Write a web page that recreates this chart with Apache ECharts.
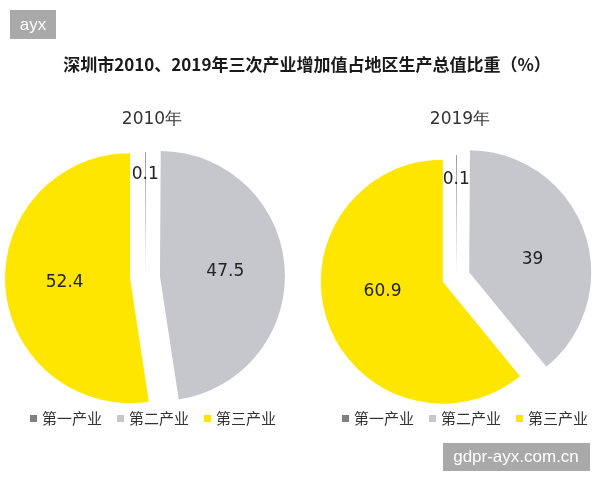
<!DOCTYPE html>
<html>
<head>
<meta charset="utf-8">
<script src="https://cdn.jsdelivr.net/npm/echarts@6/dist/echarts.min.js"></script>
<style>
  html, body { margin: 0; padding: 0; background: #fff; }
  #chart { width: 600px; height: 480px; }
</style>
</head>
<body>
<div id="chart"></div>
<script>
const industries = ['第一产业', '第二产业', '第三产业'];
const share2010 = [0.1, 47.5, 52.4];
const share2019 = [0.1, 39, 60.9];
const years = ['2010年', '2019年'];
const mainTitle = '深圳市2010、2019年三次产业增加值占地区生产总值比重（%）';

const colors = ['#808080', '#c6c7cc', '#ffe600'];
const cjk = '"Noto Sans CJK SC", sans-serif';

const chart = echarts.init(document.getElementById('chart'));

// label nudges: an empty spacer line above/below pushes the number away from the slice middle
function nudge(kind) {
    if (kind === 'up73') return '{v|{c}}\n{up73| }';
    if (kind === 'up67') return '{v|{c}}\n{up67| }';
    if (kind === 'up24') return '{v|{c}}\n{up24| }';
    if (kind === 'down') return '{dn18| }\n{vr|{c}}';
    return '{v|{c}}';
}

function pieData(values, nudges) {
    return values.map((v, i) => ({
        name: industries[i],
        value: v,
        selected: i > 0,
        label: { formatter: nudge(nudges[i]) }
    }));
}

const numStyle = { fontFamily: 'DejaVu Sans', fontSize: 17, color: '#222', lineHeight: 20 };

function pieSeries(values, center, radius, offset, nudges) {
    return {
        type: 'pie',
        center: center,
        radius: radius,
        startAngle: 90,
        clockwise: true,
        selectedMode: 'multiple',
        selectedOffset: offset,
        silent: true,
        label: {
            show: true,
            position: 'inside',
            fontFamily: 'DejaVu Sans',
            fontSize: 17,
            color: '#222',
            rich: {
                v: numStyle,
                vr: Object.assign({}, numStyle, { padding: [0, 0, 0, 6] }),
                up73: { height: 73, fontSize: 1 },
                up67: { height: 67, fontSize: 1 },
                up24: { height: 24, fontSize: 1 },
                dn18: { height: 18, fontSize: 1 }
            }
        },
        labelLine: { show: false },
        emphasis: { disabled: true },
        select: { itemStyle: { borderWidth: 0 } },
        itemStyle: { borderWidth: 0 },
        data: pieData(values, nudges)
    };
}

const legendBase = {
    data: industries,
    orient: 'horizontal',
    icon: 'rect',
    itemWidth: 7,
    itemHeight: 7,
    itemGap: 15,
    selectedMode: false,
    textStyle: { fontFamily: cjk, fontSize: 15, color: '#333' }
};

const option = {
    animation: false,
    color: colors,
    title: [
        {
            text: mainTitle,
            left: 302,
            textAlign: 'center',
            top: 51,
            textStyle: { fontFamily: cjk, fontSize: 17, fontWeight: 'bold', color: '#1a1a1a' }
        },
        {
            text: years[0],
            left: 147,
            textAlign: 'center',
            top: 106,
            textStyle: { fontFamily: 'DejaVu Sans', fontSize: 17, fontWeight: 'normal', color: '#333' }
        },
        {
            text: years[1],
            left: 455,
            textAlign: 'center',
            top: 106,
            textStyle: { fontFamily: 'DejaVu Sans', fontSize: 17, fontWeight: 'normal', color: '#333' }
        }
    ],
    legend: [
        Object.assign({}, legendBase, { left: 25, top: 406 }),
        Object.assign({}, legendBase, { left: 337, top: 406 })
    ],
    graphic: [
        {
            type: 'group',
            left: 10,
            top: 10,
            children: [
                { type: 'rect', shape: { x: 0, y: 0, width: 46, height: 29 }, style: { fill: '#a9a9a9' } },
                {
                    type: 'text', x: 23, y: 15,
                    style: { text: 'ayx', fill: '#fff', font: '17px "Liberation Sans"', align: 'center', verticalAlign: 'middle' }
                }
            ]
        },
        {
            type: 'group',
            left: 443,
            top: 443,
            children: [
                { type: 'rect', shape: { x: 0, y: 0, width: 147, height: 28 }, style: { fill: '#a9a9a9' } },
                {
                    type: 'text', x: 73, y: 14,
                    style: { text: 'gdpr-ayx.com.cn', fill: '#fff', font: '17px "Liberation Sans"', align: 'center', verticalAlign: 'middle' }
                }
            ]
        }
    ],
    series: [
        pieSeries(share2010, [145, 277], 125, 15, ['up73', null, null]),
        pieSeries(share2019, [456, 277], 122, 14, ['up67', 'down', 'up24'])
    ]
};

chart.setOption(option);
</script>
</body>
</html>
